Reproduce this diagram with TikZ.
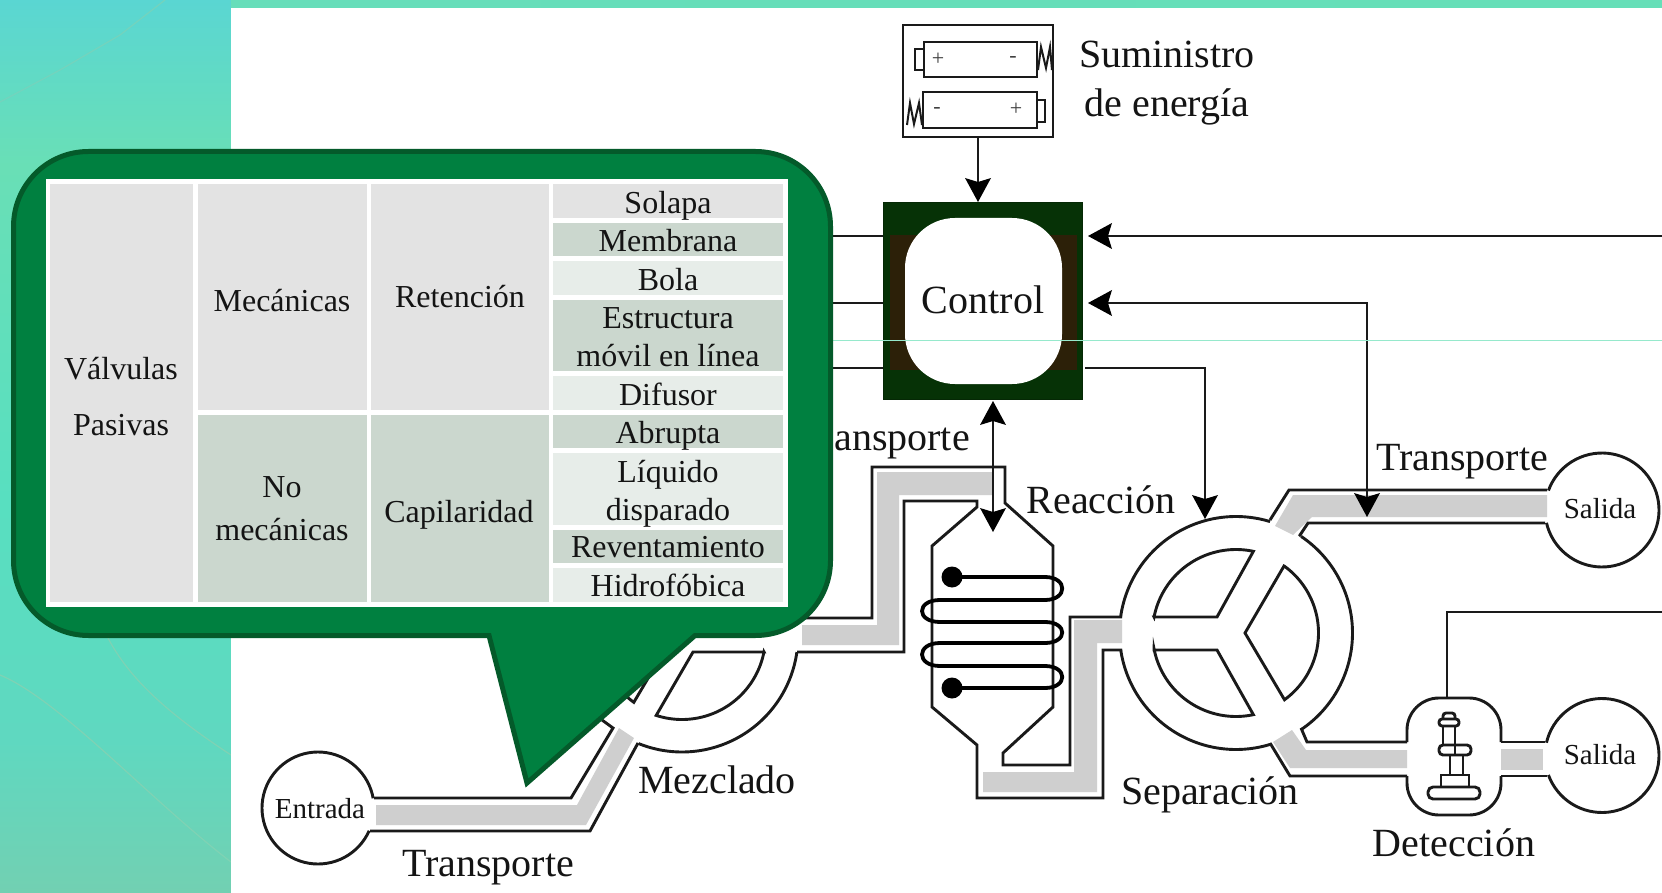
\documentclass[tikz,border=0pt]{standalone}
\usepackage{fontspec}
\setmainfont{Liberation Serif}
\usetikzlibrary{calc}

\definecolor{ink}{HTML}{1A1A1A}
\definecolor{pipegray}{HTML}{CFCFCF}
\definecolor{ctrlgreen}{HTML}{063206}
\definecolor{ctrlbrown}{HTML}{2C2008}
\definecolor{bubble}{HTML}{008040}
\definecolor{bubbleedge}{HTML}{045A2A}
\definecolor{cellgray}{HTML}{E3E3E3}
\definecolor{cellsage}{HTML}{CBD7CE}
\definecolor{cellpale}{HTML}{E7EDE9}
\definecolor{bgA}{HTML}{5AD6D2}
\definecolor{bgB}{HTML}{69DFB6}
\definecolor{bgC}{HTML}{58DFC0}
\definecolor{bgD}{HTML}{5FD8C0}
\definecolor{bgE}{HTML}{72D0B2}
\definecolor{streak}{HTML}{7FD2B4}

\tikzset{
  ln/.style={draw=ink,line width=2.9pt,line join=miter},
  spring/.style={draw=ink,line width=2pt,line join=miter},
  coil/.style={draw=black,line width=3.8pt},
  conn/.style={draw=ink,line width=2.9pt},
  big/.style={font=\fontsize{40}{40}\selectfont,anchor=base,inner sep=0pt,text=black!92},
  mid/.style={font=\fontsize{29}{29}\selectfont,anchor=base,inner sep=0pt,text=black!92},
  cell/.style={font=\fontsize{32}{32}\selectfont,anchor=base,inner sep=0pt,text=black!92},
  sign/.style={font=\fontsize{22}{22}\selectfont,inner sep=0pt,text=black!75},
  pipe/.style={fill=pipegray},
}
% circular arc in page coordinates, angles counted anticlockwise on the page
\newcommand{\pagearc}[5]{plot[domain=#4:#5,samples=70] ({#1+#3*cos(\x)},{#2-#3*sin(\x)})}
% notched solid arrowhead: tip on the given coordinate, pointing along the given page angle
\newcommand{\solidhead}[2]{\fill[black,shift={(#1)},rotate=#2] (0,0) -- (-24,-13) -- (-20,0) -- (-24,13) -- cycle;}

\begin{document}
\begin{tikzpicture}[x=1pt,y=-1pt]
\useasboundingbox (0,0) rectangle (1662,893);

% slide background
\shade[top color=bgA,bottom color=bgB] (0,0) rectangle (231,165);
\shade[top color=bgB,bottom color=bgC] (0,165) rectangle (231,500);
\shade[top color=bgC,bottom color=bgD] (0,500) rectangle (231,740);
\shade[top color=bgD,bottom color=bgE] (0,740) rectangle (231,893);
\shade[left color=bgB!85!bgA,right color=bgB!80!bgC] (231,0) rectangle (1662,8);
\draw[streak!70!bgA,line width=1.2pt] (0,102) -- (60,70) -- (120,35) -- (165,0);
\draw[streak,line width=1.2pt] (108,638) .. controls (130,680) and (170,715) .. (231,755);
\draw[streak,line width=1.2pt] (0,675) .. controls (60,700) and (150,800) .. (231,862);
\fill[white] (231,8) rectangle (1662,893);

% fluid in the channels
\fill[pipe] (376,805) -- (577,805) -- (619,728) -- (634,738) -- (586,825) -- (376,825) -- cycle;
\fill[pipe] (802,625) -- (877,625) -- (877,472) -- (992,472) -- (992,495) -- (899,495) -- (899,645) -- (802,645) -- cycle;
\fill[pipe] (983,772) -- (1074,772) -- (1074,620) -- (1122,620) -- (1122,643) -- (1097,643) -- (1097,792) -- (983,792) -- cycle;
\fill[pipe] (1275,526) -- (1293,495) -- (1547,495) -- (1547,517) -- (1312,517) -- (1293,535) -- cycle;
\fill[pipe] (1273,742) -- (1292,730) -- (1306,750) -- (1407,750) -- (1407,768) -- (1290,768) -- cycle;
\fill[pipe] (1501,749) rectangle (1543,770);

% inlet and mixer
\draw[ln] \pagearc{318}{808}{56}{10}{336};
\draw[ln] (374,798) -- (571,798) -- (613,728) -- (602,720);
\draw[ln] (370,831) -- (590,831) -- (638,743);
\draw[ln] \pagearc{682}{636}{116}{248}{352};
\draw[ln] \pagearc{682}{636}{116}{8}{226};
\draw[ln] (693,652) -- (764,652) -- plot[domain=349:252,samples=50] ({682+83.5*cos(\x)},{636-83.5*sin(\x)}) -- cycle;
\draw[ln] (673,636) -- (634,702) -- plot[domain=234:126,samples=50] ({682+82*cos(\x)},{636-82*sin(\x)}) -- cycle;
\draw[ln] (700,618) -- (872,618) -- (872,467) -- (1005,467) -- (1005,503) -- (1053,546) -- (1053,707) -- (1003,753) -- (1003,765) -- (1070,765) -- (1070,617) -- (1122,617);
\draw[ln] (797,652) -- (904,652) -- (904,501) -- (977,501) -- (977,507) -- (932,546) -- (932,707) -- (977,745) -- (977,798) -- (1103,798) -- (1103,650) -- (1122,650);

% heating coil of the reactor
\draw[coil] (952,577) -- (1045,577) .. controls (1068,577) and (1068,600) .. (1045,600)
  -- (940,600) .. controls (916,600) and (916,622) .. (940,622)
  -- (1045,622) .. controls (1068,622) and (1068,643) .. (1045,643)
  -- (940,643) .. controls (916,643) and (916,666) .. (940,666)
  -- (1045,666) .. controls (1068,666) and (1068,688) .. (1045,688)
  -- (952,688);
\fill[black] (952,577) circle (10.5);
\fill[black] (952,688) circle (10.5);

% separator
\draw[ln] \pagearc{1236}{633}{116.5}{73}{172};
\draw[ln] \pagearc{1236}{633}{116.5}{188}{287};
\draw[ln] \pagearc{1236}{633}{116.5}{-56}{56};
\draw[ln] (1217,617) -- (1154,617) -- plot[domain=169:78,samples=50] ({1236+83.5*cos(\x)},{633-83.5*sin(\x)}) -- cycle;
\draw[ln] (1154,650) -- (1217,650) -- plot[domain=282:191,samples=50] ({1236+83.5*cos(\x)},{633-83.5*sin(\x)}) -- cycle;
\draw[ln] (1245,633) -- (1284,566) -- plot[domain=54:-54,samples=50] ({1236+82.5*cos(\x)},{633-82.5*sin(\x)}) -- cycle;

% outlets and detector
\draw[ln] (1270,520) -- (1289,490) -- (1547,490);
\draw[ln] (1301,536) -- (1300,535) -- (1308,523) -- (1545,523);
\draw[ln] \pagearc{1602}{510}{57}{-167}{160};
\draw[ln] (1301,728) -- (1307,742) -- (1407,742);
\draw[ln] (1270,743) -- (1290,776) -- (1407,776);
\draw[ln] (1501,742) -- (1545,742);
\draw[ln] (1501,776) -- (1547,776);
\draw[ln] \pagearc{1602}{755.5}{57}{-160}{167};
\draw[ln,rounded corners=32pt] (1407,742) -- (1407,698) -- (1501,698) -- (1501,742);
\draw[ln,rounded corners=32pt] (1407,776) -- (1407,815) -- (1501,815) -- (1501,776);

% microscope symbol inside the detector
\draw[ln,rounded corners=5pt] (1428,787) rectangle (1480,799);
\draw[ln] (1441,787) -- (1441,775) -- (1469,775) -- (1469,787);
\draw[ln] (1450,755) -- (1450,775) (1463,755) -- (1463,775);
\draw[ln,rounded corners=4pt] (1439,745) rectangle (1471,755);
\draw[ln] (1455,745) -- (1455,755);
\draw[ln] (1443,726) -- (1443,745) (1455,726) -- (1455,745);
\draw[ln,rounded corners=3pt] (1439,719) rectangle (1459,726);
\draw[ln,rounded corners=3pt] (1443,719) -- (1443,713) -- (1455,713) -- (1455,719);

% battery holder
\node[draw=ink,line width=2.9pt,fill=white,minimum width=150pt,minimum height=112pt,inner sep=0pt] (bat) at (978,81) {};
\draw[ln] (924,42) rectangle (1037,77);
\draw[ln] (915,49) rectangle (924,70);
\draw[spring] (1038,70) -- (1041,47) -- (1046,68) -- (1050,47) -- (1052,70);
\draw[ln] (923,92) rectangle (1037,128);
\draw[ln] (1037,100) rectangle (1045,122);
\draw[spring] (922,125) -- (919,103) -- (914,124) -- (910,103) -- (907,125);
\node[sign] (plusA) at (938,59) {+};
\node[sign] (minusA) at (1013,60) {-};
\node[sign] (minusB) at (937,110) {-};
\node[sign] (plusB) at (1016,109) {+};

% control block
\node[fill=ctrlgreen,draw=ctrlgreen!80!black,line width=1pt,minimum width=199pt,minimum height=197pt,inner sep=0pt] (ctrl) at (983,301) {};
\fill[ctrlbrown] (890,235) rectangle (1077,370);
\node[fill=white,rounded corners=50pt,minimum width=157pt,minimum height=166pt,inner sep=0pt] (ctrlcore) at (983.5,301) {};
\node[big] (ctrltxt) at (983,313) {Control};

% control wiring
\coordinate (leftA) at (700,236);
\coordinate (leftB) at (700,303);
\coordinate (leftC) at (700,368);
\coordinate (edgeA) at (1662,236);
\coordinate (portA) at (1088,236);
\coordinate (portB) at (1088,303);
\coordinate (tapT) at (1367,517);
\coordinate (portC) at (1085,368);
\coordinate (sepT) at (1205,519);
\coordinate (reactUp) at (993,401);
\coordinate (reactDn) at (993,532);
\coordinate (senseA) at (1447,698);
\coordinate (edgeB) at (1662,612);
\coordinate (ctrlIn) at (bat.south |- ctrl.north);
\draw[conn,shorten >=12pt] (bat.south) -- (ctrlIn);
\draw[conn] (leftA) -- (leftA -| ctrl.west);
\draw[conn] (leftB) -- (leftB -| ctrl.west);
\draw[conn] (leftC) -- (leftC -| ctrl.west);
\draw[conn,shorten >=12pt] (edgeA) -- (portA);
\draw[conn,shorten >=12pt,shorten <=12pt] (portB) -| (tapT);
\draw[conn,shorten >=12pt] (portC) -| (sepT);
\draw[conn,shorten >=12pt,shorten <=12pt] (reactUp) -- (reactDn);
\draw[conn] (senseA) |- (edgeB);
\solidhead{ctrlIn}{-90}
\solidhead{portA}{180}
\solidhead{portB}{180}
\solidhead{tapT}{-90}
\solidhead{sepT}{-90}
\solidhead{reactUp}{90}
\solidhead{reactDn}{-90}

% labels of the flow chart
\node[big] (supplyA) at (1167,68) {Suministro};
\node[big] (supplyB) at (1167,117) {de energía};
\node[big,anchor=base east] (transA) at (970,450) {Transporte};
\node[big] (transB) at (1462,470) {Transporte};
\node[big] (transC) at (488,876) {Transporte};
\node[big] (reac) at (1101,513) {Reacción};
\node[big] (sepa) at (1210,804) {Separación};
\node[big] (dete) at (1454,856) {Detección};
\node[big] (mezc) at (717,793) {Mezclado};
\node[mid] (salA) at (1600,518) {Salida};
\node[mid] (salB) at (1600,764) {Salida};
\node[mid] (entr) at (320,818) {Entrada};

% hairline across the slide
\draw[bgB!70!white,line width=0.6pt] (833,340) -- (1662,340);

% speech bubble
\draw[fill=bubble,draw=bubbleedge,line width=5pt,line join=miter]
  (489,635.5) -- (88.5,635.5) .. controls (47,635.5) and (13.5,602) .. (13.5,560.5)
  -- (13.5,226.5) .. controls (13.5,185) and (47,151.5) .. (88.5,151.5)
  -- (755.5,151.5) .. controls (797,151.5) and (830.5,185) .. (830.5,226.5)
  -- (830.5,560.5) .. controls (830.5,602) and (797,635.5) .. (755.5,635.5)
  -- (695,635.5) -- (527,783) -- cycle;

% classification table
\fill[white] (46,179) rectangle (788,607);
\fill[cellgray] (50,184) rectangle (193,602);
\fill[cellgray] (198,184) rectangle (367,410);
\fill[cellsage] (198,415) rectangle (367,602);
\fill[cellgray] (371,184) rectangle (549,410);
\fill[cellsage] (371,415) rectangle (549,602);
\fill[cellgray] (553,184) rectangle (783,218);
\fill[cellsage] (553,223) rectangle (783,256);
\fill[cellpale] (553,261) rectangle (783,295);
\fill[cellsage] (553,300) rectangle (783,371);
\fill[cellpale] (553,376) rectangle (783,410);
\fill[cellsage] (553,415) rectangle (783,448);
\fill[cellpale] (553,453) rectangle (783,525);
\fill[cellsage] (553,530) rectangle (783,563);
\fill[cellpale] (553,568) rectangle (783,602);

\node[cell] (tValv) at (121,379) {Válvulas};
\node[cell] (tPas) at (121,435) {Pasivas};
\node[cell] (tMec) at (282,311) {Mecánicas};
\node[cell] (tNo) at (282,497) {No};
\node[cell] (tNoMec) at (282,540) {mecánicas};
\node[cell] (tRet) at (460,308) {Retención};
\node[cell] (tCap) at (459,522) {Capilaridad};
\node[cell] (tSol) at (668,214) {Solapa};
\node[cell] (tMem) at (668,252) {Membrana};
\node[cell] (tBol) at (668,290.5) {Bola};
\node[cell] (tEst) at (668,328) {Estructura};
\node[cell] (tMov) at (668,366) {móvil en línea};
\node[cell] (tDif) at (668,405) {Difusor};
\node[cell] (tAbr) at (668,443) {Abrupta};
\node[cell] (tLiq) at (668,482) {Líquido};
\node[cell] (tDis) at (668,520) {disparado};
\node[cell] (tRev) at (668,557) {Reventamiento};
\node[cell] (tHid) at (668,596) {Hidrofóbica};
\end{tikzpicture}
\end{document}
